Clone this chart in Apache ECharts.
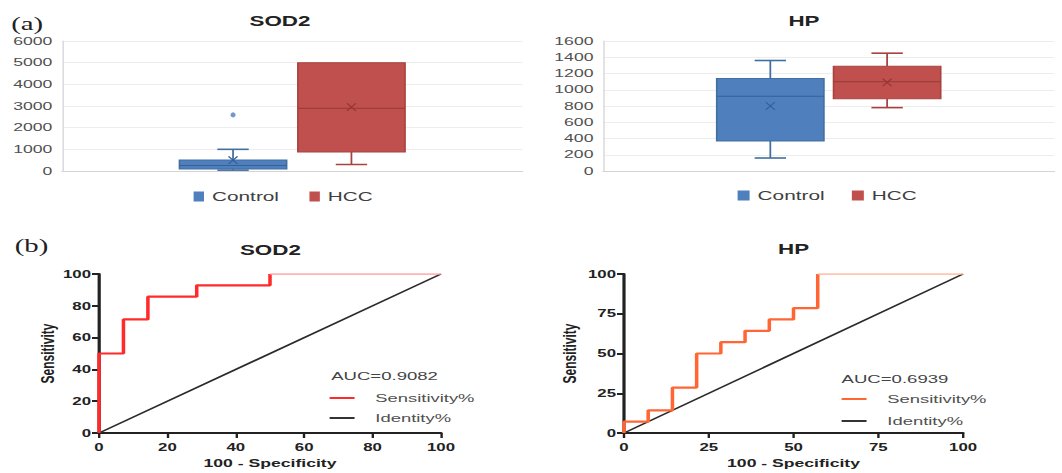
<!DOCTYPE html>
<html><head><meta charset="utf-8">
<script src="https://cdn.jsdelivr.net/npm/echarts@6/dist/echarts.min.js"></script>
<style>
html,body{margin:0;padding:0;background:#fff;overflow:hidden}
#wrap{width:1062px;height:473px;overflow:hidden;position:relative}
#chart{width:664px;height:473px;transform:scaleX(1.6);transform-origin:0 0}
</style></head>
<body><div id="wrap"><div id="chart"></div></div>
<script>
// ---------- data ----------
const groups = ['Control', 'HCC'];
// box stats: [min, q1, median, q3, max]
const sodControl = [40, 90, 250, 510, 1000];
const sodControlMean = 500;
const sodControlOutliers = [2590];
const sodHcc = [300, 880, 2900, 5000, 5000];
const sodHccMean = 2950;
const hpControl = [160, 370, 920, 1140, 1360];
const hpControlMean = 800;
const hpHcc = [780, 890, 1100, 1290, 1450];
const hpHccMean = 1090;

// ROC curves (100 - specificity, sensitivity)
const sodFpr = [0, 0, 7.14, 7.14, 14.29, 14.29, 28.57, 28.57, 50, 50, 100];
const sodTpr = [0, 50, 50, 71.43, 71.43, 85.71, 85.71, 92.86, 92.86, 100, 100];
const hpFpr = [0, 0, 7.14, 7.14, 14.29, 14.29, 21.43, 21.43, 28.57, 28.57, 35.71, 35.71, 42.86, 42.86, 50, 50, 57.14, 57.14, 100];
const hpTpr = [0, 7.14, 7.14, 14.29, 14.29, 28.57, 28.57, 50, 50, 57.14, 57.14, 64.29, 64.29, 71.43, 71.43, 78.57, 78.57, 100, 100];
const identityX = [0, 100];
const identityY = [0, 100];
const sodAuc = 'AUC=0.9082';
const hpAuc = 'AUC=0.6939';

// ---------- helpers ----------
const FONT = 'Arial, "Liberation Sans", sans-serif';
const zip = (a, b) => a.map((v, i) => [v, b[i]]);
const boxRow = (s, mean) => [[0, s[0], s[1], s[2], s[3], s[4], mean]];

function makeBox(offset, fill, stroke, dark) {
  return function (params, api) {
    const c = api.value(0);
    const p = v => api.coord([c, v]);
    const cx = p(0)[0] + offset;
    const yMin = p(api.value(1))[1], yQ1 = p(api.value(2))[1], yMed = p(api.value(3))[1],
          yQ3 = p(api.value(4))[1], yMax = p(api.value(5))[1], yMean = p(api.value(6))[1];
    const hw = 33.5, cap = 9.8, mx = 2.8, my = 3.8;
    const ln = (x1, y1, x2, y2, col, w) => ({type: 'line', shape: {x1, y1, x2, y2}, style: {stroke: col, lineWidth: w}});
    const kids = [
      ln(cx, yQ3, cx, yMax, stroke, 1.1),
      ln(cx, yQ1, cx, yMin, stroke, 1.1),
      {type: 'rect', shape: {x: cx - hw, y: yQ3, width: 2 * hw, height: Math.max(yQ1 - yQ3, 0.5)},
       style: {fill: fill, stroke: stroke, lineWidth: 1}}
    ];
    if (api.value(5) > api.value(4)) kids.push(ln(cx - cap, yMax, cx + cap, yMax, stroke, 1.6));
    if (api.value(1) < api.value(2)) kids.push(ln(cx - cap, yMin, cx + cap, yMin, stroke, 1.6));
    kids.push(
      ln(cx - hw, yMed, cx + hw, yMed, dark, 1),
      ln(cx - mx, yMean - my, cx + mx, yMean + my, dark, 0.9),
      ln(cx - mx, yMean + my, cx + mx, yMean - my, dark, 0.9)
    );
    return {type: 'group', children: kids};
  };
}

const BLUE = '#4f7fbd', BLUE_S = '#41709f', BLUE_D = '#35609a';
const RED = '#c0504d', RED_S = '#a8423f', RED_D = '#963836';
const OFF = 37;

function topY(idx, max, interval) {
  return {gridIndex: idx, type: 'value', min: 0, max: max, interval: interval,
    axisLine: {show: true, lineStyle: {color: '#dcdcdc', width: 1}},
    axisTick: {show: false},
    splitLine: {lineStyle: {color: '#ededed', width: 1}},
    axisLabel: {color: '#505050', fontSize: 11, fontFamily: FONT, margin: 6, formatter: v => String(v)}};
}
function topX(idx) {
  return {gridIndex: idx, type: 'category', data: [''],
    axisLine: {lineStyle: {color: '#d4d4d4', width: 1}},
    axisTick: {show: false}, axisLabel: {show: false}};
}
function rocX(idx, interval) {
  return {gridIndex: idx, type: 'value', min: 0, max: 100, interval: interval,
    splitLine: {show: false},
    axisLine: {onZero: false, lineStyle: {color: '#222', width: 2}},
    axisTick: {length: 5, lineStyle: {color: '#222', width: 1.5}},
    axisLabel: {color: '#222', fontSize: 10.5, fontWeight: 'bold', fontFamily: FONT, margin: 9},
    name: '100 - Specificity', nameLocation: 'middle', nameGap: 25,
    nameTextStyle: {color: '#222', fontSize: 11, fontWeight: 'bold', fontFamily: FONT}};
}
function rocY(idx, interval, gap) {
  return {gridIndex: idx, type: 'value', min: 0, max: 100, interval: interval,
    splitLine: {show: false},
    axisLine: {onZero: false, lineStyle: {color: '#222', width: 2}},
    axisTick: {length: 4.4, lineStyle: {color: '#222', width: 2}},
    axisLabel: {color: '#222', fontSize: 10.5, fontWeight: 'bold', fontFamily: FONT, margin: 5},
    name: 'Sensitivity', nameLocation: 'middle', nameGap: gap,
    nameTextStyle: {color: '#222', fontSize: 12, fontWeight: 'bold', fontFamily: FONT}};
}
function txt(x, y, text, font, color, align) {
  return {type: 'text', x: x, y: y, style: {text: text, font: font, fill: color || '#222',
    textAlign: align || 'center', align: align || 'center', textVerticalAlign: 'middle', verticalAlign: 'middle'}};
}

const chart = echarts.init(document.getElementById('chart'), null, {renderer: 'svg', width: 664, height: 473});

const option = {
  animation: false,
  backgroundColor: '#fff',
  grid: [
    {left: 38.75, top: 41, width: 287.8, height: 130},
    {left: 376.9, top: 41, right: 5, height: 130},
    {left: 61.9, top: 274, width: 213.7, height: 159},
    {left: 390, top: 274, width: 211.9, height: 159}
  ],
  xAxis: [topX(0), topX(1), rocX(2, 20), rocX(3, 25)],
  yAxis: [topY(0, 6000, 1000), topY(1, 1600, 200), rocY(2, 20, 26), rocY(3, 25, 28)],
  legend: [
    {data: groups, left: 121, top: 190, padding: 0, itemWidth: 6.5, itemHeight: 10, itemGap: 19, icon: 'rect',
     textStyle: {color: '#404040', fontSize: 13, fontFamily: FONT}},
    {data: groups, left: 461, top: 189, padding: 0, itemWidth: 7.5, itemHeight: 10, itemGap: 17, icon: 'rect',
     textStyle: {color: '#404040', fontSize: 13, fontFamily: FONT}},
    {data: ['sod|Sensitivity%', 'sod|Identity%'], orient: 'vertical', left: 206, top: 392, padding: 0,
     itemWidth: 15.6, itemHeight: 2, itemGap: 8, icon: 'rect',
     formatter: n => n.split('|')[1],
     textStyle: {color: '#505050', fontSize: 11.5, fontFamily: FONT, padding: [0, 0, 0, 8]}},
    {data: ['hp|Sensitivity%', 'hp|Identity%'], orient: 'vertical', left: 526, top: 393, padding: 0,
     itemWidth: 15.6, itemHeight: 2, itemGap: 10, icon: 'rect',
     formatter: n => n.split('|')[1],
     textStyle: {color: '#505050', fontSize: 11.5, fontFamily: FONT, padding: [0, 0, 0, 8]}}
  ],
  graphic: [
    txt(17, 24, '(a)', '18px "Liberation Serif", "Times New Roman", serif', '#222'),
    txt(175, 21, 'SOD2', 'bold 14px ' + FONT, '#222'),
    txt(502.5, 21, 'HP', 'bold 14px ' + FONT, '#222'),
    txt(19.7, 246, '(b)', '18px "Liberation Serif", "Times New Roman", serif', '#222'),
    txt(169, 250, 'SOD2', 'bold 14px ' + FONT, '#222'),
    txt(496, 249, 'HP', 'bold 14px ' + FONT, '#222'),
    txt(207, 376, sodAuc, '11.6px ' + FONT, '#444', 'left'),
    txt(526, 379, hpAuc, '11.6px ' + FONT, '#444', 'left')
  ],
  series: [
    {name: 'Control', type: 'custom', xAxisIndex: 0, yAxisIndex: 0, itemStyle: {color: BLUE},
     renderItem: makeBox(-OFF, BLUE, BLUE_S, BLUE_D), encode: {x: 0, y: [1, 2, 3, 4, 5, 6]},
     data: boxRow(sodControl, sodControlMean)},
    {name: 'HCC', type: 'custom', xAxisIndex: 0, yAxisIndex: 0, itemStyle: {color: RED},
     renderItem: makeBox(OFF, RED, RED_S, RED_D), encode: {x: 0, y: [1, 2, 3, 4, 5, 6]},
     data: boxRow(sodHcc, sodHccMean)},
    {name: 'Control', type: 'scatter', xAxisIndex: 0, yAxisIndex: 0, symbol: 'circle',
     symbolSize: [3.2, 5], symbolOffset: [-OFF, 0], itemStyle: {color: BLUE},
     data: sodControlOutliers.map(v => [0, v])},
    {name: 'Control', type: 'custom', xAxisIndex: 1, yAxisIndex: 1, itemStyle: {color: BLUE},
     renderItem: makeBox(-36.5, BLUE, BLUE_S, BLUE_D), encode: {x: 0, y: [1, 2, 3, 4, 5, 6]},
     data: boxRow(hpControl, hpControlMean)},
    {name: 'HCC', type: 'custom', xAxisIndex: 1, yAxisIndex: 1, itemStyle: {color: RED},
     renderItem: makeBox(36.5, RED, RED_S, RED_D), encode: {x: 0, y: [1, 2, 3, 4, 5, 6]},
     data: boxRow(hpHcc, hpHccMean)},

    {name: 'sod|Identity%', type: 'line', xAxisIndex: 2, yAxisIndex: 2, symbol: 'none', color: '#333',
     lineStyle: {color: '#2a2a2a', width: 1.5}, data: zip(identityX, identityY)},
    {name: 'sod|Sensitivity%', type: 'line', xAxisIndex: 2, yAxisIndex: 2, symbol: 'none', color: '#ff2a2a',
     lineStyle: {color: '#ff2a2a', width: 2.2}, data: zip(sodFpr, sodTpr).slice(0, -1)},
    {name: 'sod tail', type: 'line', xAxisIndex: 2, yAxisIndex: 2, symbol: 'none', color: '#ff9c9c',
     lineStyle: {color: '#ff9c9c', width: 1.3}, data: zip(sodFpr, sodTpr).slice(-2)},

    {name: 'hp|Identity%', type: 'line', xAxisIndex: 3, yAxisIndex: 3, symbol: 'none', color: '#333',
     lineStyle: {color: '#2a2a2a', width: 1.5}, data: zip(identityX, identityY)},
    {name: 'hp|Sensitivity%', type: 'line', xAxisIndex: 3, yAxisIndex: 3, symbol: 'none', color: '#ff6633',
     lineStyle: {color: '#ff6633', width: 2.2}, data: zip(hpFpr, hpTpr).slice(0, -1)},
    {name: 'hp tail', type: 'line', xAxisIndex: 3, yAxisIndex: 3, symbol: 'none', color: '#ffb396',
     lineStyle: {color: '#ffb396', width: 1.3}, data: zip(hpFpr, hpTpr).slice(-2)}
  ]
};
chart.setOption(option);
</script>
</body></html>
